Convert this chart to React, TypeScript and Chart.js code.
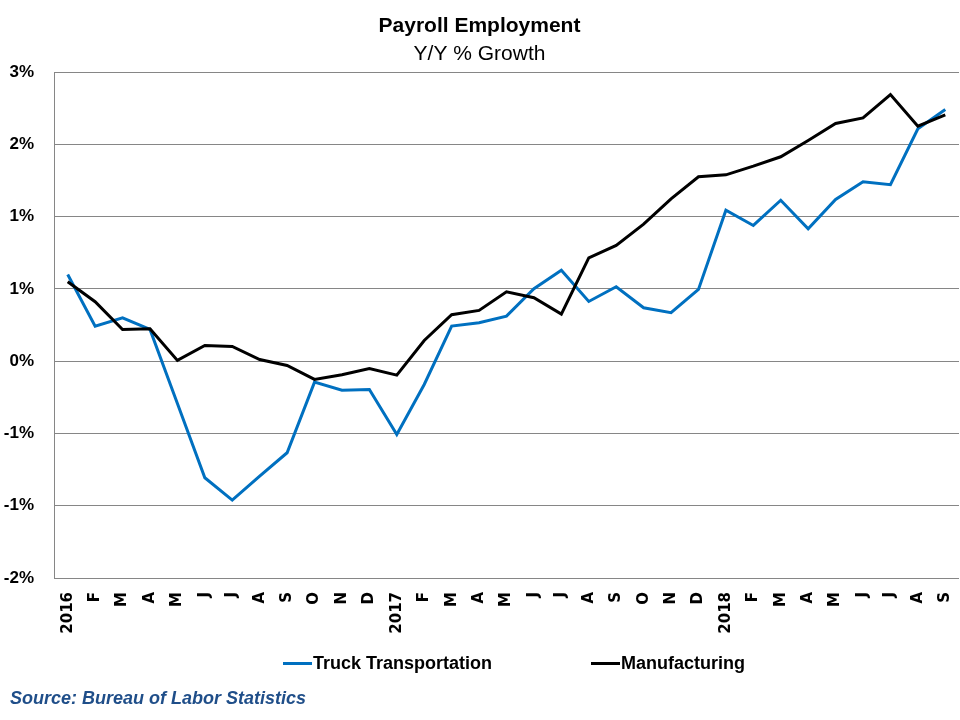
import React, { useEffect, useRef } from "react";
import { Chart, registerables } from "chart.js";

Chart.register(...registerables);

const MONTHS: string[] = [
  "2016", "F", "M", "A", "M", "J", "J", "A", "S", "O", "N", "D",
  "2017", "F", "M", "A", "M", "J", "J", "A", "S", "O", "N", "D",
  "2018", "F", "M", "A", "M", "J", "J", "A", "S",
];

const TRUCK: number[] = [
  0.839, 0.339, 0.42, 0.307, -0.41, -1.129, -1.346, -1.113, -0.887, -0.203, -0.281, -0.274,
  -0.71, -0.226, 0.339, 0.372, 0.436, 0.701, 0.881, 0.578, 0.72, 0.517, 0.469, 0.694,
  1.462, 1.314, 1.558, 1.282, 1.565, 1.737, 1.708, 2.25, 2.436,
];

const MANUFACTURING: number[] = [
  0.769, 0.575, 0.307, 0.314, 0.007, 0.152, 0.142, 0.016, -0.042, -0.177, -0.132, -0.071,
  -0.136, 0.2, 0.449, 0.491, 0.672, 0.614, 0.455, 1.001, 1.12, 1.326, 1.572, 1.785,
  1.804, 1.888, 1.979, 2.136, 2.301, 2.356, 2.582, 2.275, 2.385,
];

const Y_TICK_VALUES: number[] = [-2.1, -1.4, -0.7, 0, 0.7, 1.4, 2.1, 2.8];
const Y_TICK_LABELS: string[] = ["-2%", "-1%", "-1%", "0%", "1%", "1%", "2%", "3%"];

const SERIES_NAMES: string[] = ["Truck Transportation", "Manufacturing"];
const SERIES_COLORS: string[] = ["#0070C0", "#000000"];

const TITLE = "Payroll Employment";
const SUBTITLE = "Y/Y % Growth";
const SOURCE = "Source: Bureau of Labor Statistics";

const SANS = "'Liberation Sans', Arial, sans-serif";

export default function App() {
  const canvasRef = useRef<HTMLCanvasElement | null>(null);

  useEffect(() => {
    if (!canvasRef.current) return;
    const chart = new Chart(canvasRef.current, {
      type: "line",
      data: {
        labels: MONTHS,
        datasets: [
          {
            label: SERIES_NAMES[0],
            data: TRUCK,
            borderColor: SERIES_COLORS[0],
            backgroundColor: SERIES_COLORS[0],
            borderWidth: 3,
            pointRadius: 0,
            tension: 0,
            order: 1,
          },
          {
            label: SERIES_NAMES[1],
            data: MANUFACTURING,
            borderColor: SERIES_COLORS[1],
            backgroundColor: SERIES_COLORS[1],
            borderWidth: 3,
            pointRadius: 0,
            tension: 0,
            order: 0,
          },
        ],
      },
      options: {
        animation: false,
        responsive: false,
        maintainAspectRatio: false,
        layout: { padding: { left: 0, right: 1, top: 0, bottom: 82 } },
        plugins: {
          legend: { display: false },
          tooltip: { enabled: false },
          title: {
            display: true,
            text: TITLE,
            color: "#000",
            font: { family: SANS, size: 21, weight: "bold", lineHeight: 1.2 },
            padding: { top: 13.5, bottom: 0 },
          },
          subtitle: {
            display: true,
            text: SUBTITLE,
            color: "#000",
            font: { family: SANS, size: 21, weight: "normal", lineHeight: 1.2 },
            padding: { top: 2.5, bottom: 5.6 },
          },
        },
        scales: {
          x: {
            type: "category",
            offset: true,
            grid: { display: false, drawTicks: false },
            border: { display: false },
            ticks: {
              autoSkip: false,
              maxRotation: 90,
              minRotation: 90,
              padding: 14,
              color: "#000",
              font: { family: "'DejaVu Sans', Verdana, sans-serif", size: 15, weight: "bold" },
            },
            afterFit: (s: any) => {
              s.height = 60;
              s.paddingLeft = 0;
              s.paddingRight = 0;
            },
          },
          y: {
            type: "linear",
            min: Y_TICK_VALUES[0],
            max: Y_TICK_VALUES[Y_TICK_VALUES.length - 1],
            grid: { color: "#868686", lineWidth: 1, drawTicks: false },
            border: { display: true, color: "#868686", width: 1 },
            afterBuildTicks: (s: any) => {
              s.ticks = Y_TICK_VALUES.map((v) => ({ value: v }));
            },
            ticks: {
              padding: 20,
              color: "#000",
              font: { family: SANS, size: 17, weight: "bold" },
              callback: (_v: any, i: number) => Y_TICK_LABELS[i],
            },
            afterFit: (s: any) => {
              s.width = 54;
            },
          },
        },
      },
    });
    return () => chart.destroy();
  }, []);

  const legendItem = (i: number, left: number) => (
    <div
      key={i}
      style={{
        position: "absolute",
        left,
        top: 652,
        height: 22,
        display: "flex",
        alignItems: "center",
        whiteSpace: "nowrap",
      }}
    >
      <div style={{ width: 29, height: 3, background: SERIES_COLORS[i], marginRight: 1 }} />
      <span style={{ fontFamily: SANS, fontWeight: "bold", fontSize: 18, color: "#000" }}>
        {SERIES_NAMES[i]}
      </span>
    </div>
  );

  return (
    <div style={{ position: "absolute", left: 0, top: 0, width: 960, height: 720, background: "#fff" }}>
      <canvas ref={canvasRef} width={960} height={720} style={{ display: "block" }} />
      {legendItem(0, 283)}
      {legendItem(1, 591)}
      <div
        style={{
          position: "absolute",
          left: 10,
          top: 688,
          fontFamily: SANS,
          fontWeight: "bold",
          fontStyle: "italic",
          fontSize: 18,
          color: "#1F4E89",
          whiteSpace: "nowrap",
        }}
      >
        {SOURCE}
      </div>
    </div>
  );
}
